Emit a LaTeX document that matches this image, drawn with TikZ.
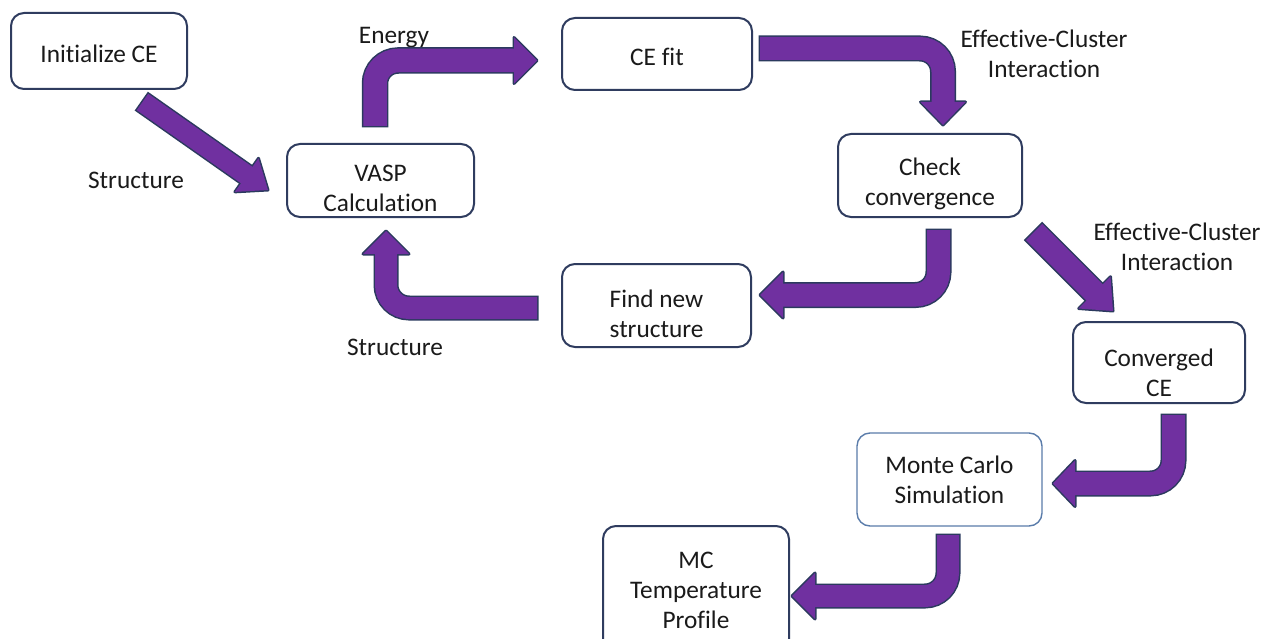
\documentclass[tikz,border=0pt]{standalone}
\usepackage{fontspec}
\setmainfont{Carlito}[Ligatures=NoCommon]
\usetikzlibrary{calc}
\definecolor{arrowfill}{HTML}{7030A0}
\definecolor{arrowedge}{HTML}{2B3A5E}
\definecolor{boxedge}{HTML}{2F3C5F}
\definecolor{mcedge}{HTML}{5A7CAA}
\definecolor{txtc}{HTML}{1A1A1A}
\newcommand\lblfont{\fontsize{25.3}{30}\selectfont}
% #1 shaft path (before head base), #2 last point before head, #3 tip,
% #4 shaft width, #5 head half width, #6 head length
\newcommand\fatarrow[6]{%
  \path ($(#3)!#6!(#2)$) coordinate (hb)
        ($(hb)!#5!90:(#3)$) coordinate (h1)
        ($(hb)!#5!-90:(#3)$) coordinate (h2);
  \draw[arrowedge, line width=#4+3pt, rounded corners=23pt, shorten <=-1.5pt] #1 -- (hb);
  \filldraw[arrowedge, line width=3pt, line join=round] (h1) -- (#3) -- (h2) -- cycle;
  \draw[arrowfill, line width=#4, rounded corners=23pt, shorten >=-1pt] #1 -- (hb);
  \fill[arrowfill] (h1) -- (#3) -- (h2) -- cycle;
}
\begin{document}
\begin{tikzpicture}[x=1pt,y=-1pt,
  box/.style={draw=boxedge, line width=2pt, rounded corners=13pt, fill=white, inner sep=0pt},
  mcbox/.style={box, draw=mcedge, line width=1.4pt},
  txt/.style={align=center, font=\lblfont, text=txtc, inner sep=0pt}]
\clip (0,0) rectangle (1263,639);
\fill[white] (0,0) rectangle (1263,639);

% boxes
\node[box, minimum width=176pt, minimum height=76pt] (init) at (99,51) {};
\node[box, minimum width=187pt, minimum height=73pt] (vasp) at (380.5,180.5) {};
\node[box, minimum width=190pt, minimum height=72pt] (cefit) at (657,54) {};
\node[box, minimum width=184pt, minimum height=83pt] (check) at (930,175.5) {};
\node[box, minimum width=189pt, minimum height=83pt] (find) at (656.5,305.5) {};
\node[box, minimum width=172pt, minimum height=81pt] (conv) at (1159,362.5) {};
\node[mcbox, minimum width=185pt, minimum height=93pt] (monte) at (949.5,479.5) {};
\node[box, minimum width=186pt, minimum height=126pt] (mc) at (696,589) {};

% box texts
\node[txt] (initT) at (99,57) {\strut Initialize CE};
\node[txt] (cefitT) at (657,60) {\strut CE fit};
\node[txt] (vaspT) at (380.5,190.5) {\strut VASP\\\strut Calculation};
\node[txt] (checkT) at (930,185) {\strut Check\\\strut convergence};
\node[txt] (findT) at (656.5,316) {\strut Find new\\\strut structure};
\node[txt] (convT) at (1159,375) {\strut Converged\\\strut CE};
\node[txt] (monteT) at (949.5,482) {\strut Monte Carlo\\\strut Simulation};
\node[txt] (mcT) at (696,592) {\strut MC\\\strut Temperature\\\strut Profile};

% arrow labels
\node[txt] (energy) at (394,38) {\strut Energy};
\node[txt] (eci1) at (1044,57) {\strut Effective-Cluster\\\strut Interaction};
\node[txt] (eci2) at (1177,249) {\strut Effective-Cluster\\\strut Interaction};
\node[txt] (struct1) at (136,183) {\strut Structure};
\node[txt] (struct2) at (395,349) {\strut Structure};

% arrows
\coordinate (a1s) at (142.5,102); \coordinate (a1t) at (268,190);
\fatarrow{(a1s)}{a1s}{a1t}{20pt}{20.5pt}{26pt}

\coordinate (a2s) at (375,126); \coordinate (a2t) at (537,60.5);
\coordinate (a2c) at (a2s |- a2t);
\fatarrow{(a2s) -- (a2c)}{a2c}{a2t}{23.5pt}{23pt}{23pt}

\coordinate (a3s) at (760,48.5); \coordinate (a3t) at (943,125);
\coordinate (a3c) at (a3t |- a3s);
\fatarrow{(a3s) -- (a3c)}{a3c}{a3t}{23pt}{22.5pt}{23pt}

\coordinate (a4s) at (938.5,230); \coordinate (a4t) at (760,295);
\coordinate (a4c) at (a4s |- a4t);
\fatarrow{(a4s) -- (a4c)}{a4c}{a4t}{23pt}{23pt}{23pt}

\coordinate (a5s) at (537,308); \coordinate (a5t) at (386,231);
\coordinate (a5c) at (a5t |- a5s);
\fatarrow{(a5s) -- (a5c)}{a5c}{a5t}{22pt}{23pt}{23pt}

\coordinate (a6s) at (1034,232); \coordinate (a6t) at (1113,311);
\fatarrow{(a6s)}{a6s}{a6t}{23pt}{22.5pt}{26pt}

\coordinate (a7s) at (1173.5,415); \coordinate (a7t) at (1053,483.5);
\coordinate (a7c) at (a7s |- a7t);
\fatarrow{(a7s) -- (a7c)}{a7c}{a7t}{23pt}{23pt}{22pt}

\coordinate (a8s) at (948,535); \coordinate (a8t) at (792,596);
\coordinate (a8c) at (a8s |- a8t);
\fatarrow{(a8s) -- (a8c)}{a8c}{a8t}{22pt}{23pt}{23pt}
\end{tikzpicture}
\end{document}
